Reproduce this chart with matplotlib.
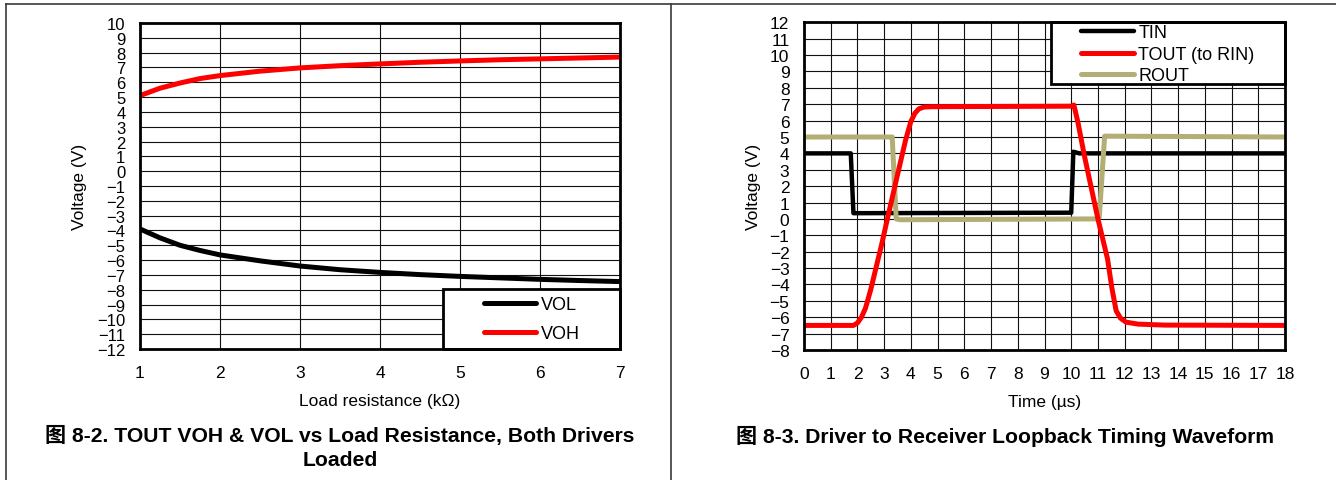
import matplotlib
matplotlib.use("Agg")
import matplotlib.pyplot as plt
from matplotlib.patches import Rectangle
from matplotlib.lines import Line2D

plt.rcParams['font.family'] = ['Liberation Sans', 'Noto Sans CJK SC', 'DejaVu Sans']

# ---------------- data: left chart ----------------
load_kohm = [1.0, 1.25, 1.5, 1.75, 2.0, 2.5, 3.0, 3.5, 4.0, 4.5, 5.0, 5.5, 6.0, 6.5, 7.0]
voh = [5.1, 5.6, 5.95, 6.25, 6.45, 6.75, 6.97, 7.12, 7.24, 7.35, 7.44, 7.52, 7.58, 7.64, 7.7]
vol = [-3.9, -4.5, -5.0, -5.35, -5.65, -6.05, -6.4, -6.65, -6.83, -6.98, -7.1, -7.2, -7.3, -7.38, -7.45]

# ---------------- data: right chart ----------------
t_tin = [0.0, 1.75, 1.85, 10.0, 10.08, 10.3, 18.0]
v_tin = [4.0, 4.0, 0.35, 0.38, 4.1, 4.0, 4.0]

t_tout = [0.0, 1.85, 2.0, 2.15, 2.3, 2.5, 2.9, 3.12, 3.5, 3.8, 4.0, 4.15, 4.3, 4.5, 4.8, 10.0, 10.1,
          10.25, 10.5, 10.75, 11.0, 11.36, 11.52, 11.68, 11.84, 12.05, 12.5, 13.5, 18.0]
v_tout = [-6.5, -6.5, -6.35, -6.0, -5.45, -4.3, -1.6, 0.0, 2.7, 4.8, 5.95, 6.45, 6.72, 6.83, 6.85, 6.88, 6.95,
          5.9, 3.8, 1.9, 0.0, -2.45, -4.2, -5.6, -6.05, -6.3, -6.42, -6.48, -6.5]

t_rout = [0.0, 3.3, 3.45, 3.6, 10.95, 11.05, 11.25, 11.5, 18.0]
v_rout = [5.0, 5.0, 0.0, -0.05, 0.0, 0.1, 5.05, 5.05, 5.0]

left_xticks = [1, 2, 3, 4, 5, 6, 7]
left_yticks = list(range(-12, 11))
right_xticks = list(range(0, 19))
right_yticks = list(range(-8, 13))

RED = '#ff0000'
BLACK = '#000000'
OLIVE = '#b3ae74'
FS = 12.5
LEG_FS = 13

fig = plt.figure(figsize=(13.36, 4.81), dpi=100)

# outer frame lines
frame_col = '#3a3a3a'
fig.add_artist(Line2D([6 / 1336, 1.0], [1 - 5 / 481, 1 - 5 / 481], color=frame_col, lw=1.2, transform=fig.transFigure))
fig.add_artist(Line2D([6 / 1336, 6 / 1336], [0, 1 - 5 / 481], color=frame_col, lw=1.2, transform=fig.transFigure))
fig.add_artist(Line2D([671 / 1336, 671 / 1336], [0, 1 - 5 / 481], color=frame_col, lw=1.2, transform=fig.transFigure))


def style_axes(ax, xt, yt, ytick_fs):
    ax.set_xticks(xt)
    ax.set_yticks(yt)
    ax.set_xlim(xt[0], xt[-1])
    ax.set_ylim(yt[0], yt[-1])
    ax.grid(True, color='#111111', lw=0.8)
    ax.set_axisbelow(True)
    for s in ax.spines.values():
        s.set_linewidth(2.0)
        s.set_color('black')
        s.set_zorder(10)
    ax.tick_params(axis='both', length=0)
    ax.tick_params(axis='x', pad=11.5, labelsize=FS)
    ax.tick_params(axis='y', pad=10.5, labelsize=ytick_fs)


# ---------------- left chart ----------------
ax1 = fig.add_axes([140 / 1336, (481 - 350) / 481, 480 / 1336, 326 / 481])
style_axes(ax1, left_xticks, left_yticks, 12)
ax1.plot(load_kohm, vol, color=BLACK, lw=3.6, label='VOL', zorder=3)
ax1.plot(load_kohm, voh, color=RED, lw=3.6, label='VOH', zorder=3)
ax1.set_xlabel('Load resistance (kΩ)', fontsize=FS, labelpad=9.5)
ax1.set_ylabel('Voltage (V)', fontsize=FS, labelpad=7.5)

lx0 = (443 - 140) / 480
lh = (350 - 290) / 326
ax1.add_patch(Rectangle((lx0, 0), 1 - lx0, lh, transform=ax1.transAxes, facecolor='white',
                        edgecolor='black', lw=2.0, zorder=8, clip_on=False))
leg1 = ax1.legend(loc='center', bbox_to_anchor=(lx0, 0, 1 - lx0, lh), frameon=False,
                  fontsize=LEG_FS, handlelength=2.9, handletextpad=0.25, labelspacing=0.68,
                  borderpad=0, borderaxespad=0)
leg1.set_zorder(9)
for h in leg1.get_lines():
    h.set_solid_capstyle('round')

# ---------------- right chart ----------------
ax2 = fig.add_axes([804 / 1336, (481 - 351) / 481, 481 / 1336, 327.7 / 481])
style_axes(ax2, right_xticks, right_yticks, FS)
ax2.plot(t_tin, v_tin, color=BLACK, lw=3.2, label='TIN', zorder=3)
ax2.plot(t_tout, v_tout, color=RED, lw=3.6, label='TOUT (to RIN)', zorder=4)
ax2.plot(t_rout, v_rout, color=OLIVE, lw=3.6, label='ROUT', zorder=3)
ax2.set_xlabel('Time (µs)', fontsize=FS, labelpad=9.5)
ax2.set_ylabel('Voltage (V)', fontsize=FS, labelpad=6)

rx0 = (1051 - 804) / 481
ry0 = (351 - 85) / 327.7
ax2.add_patch(Rectangle((rx0, ry0), 1 - rx0, 1 - ry0, transform=ax2.transAxes, facecolor='white',
                        edgecolor='black', lw=2.0, zorder=8, clip_on=False))
leg2 = ax2.legend(loc='center', bbox_to_anchor=(rx0, ry0 - 0.004, 1 - rx0, 1 - ry0), frameon=False,
                  fontsize=LEG_FS, handlelength=2.9, handletextpad=0.25, labelspacing=0.25,
                  borderpad=0, borderaxespad=0)
leg2.set_zorder(9)
for h in leg2.get_lines():
    h.set_solid_capstyle('round')

# ---------------- captions ----------------
cap_fs = 15.2
fig.text(340 / 1336, 1 - 436 / 481, '图 8-2. TOUT VOH & VOL vs Load Resistance, Both Drivers',
         ha='center', va='center', fontsize=cap_fs, fontweight='bold')
fig.text(340 / 1336, 1 - 461 / 481, 'Loaded', ha='center', va='center', fontsize=cap_fs, fontweight='bold')
fig.text(1004.5 / 1336, 1 - 436 / 481, '图 8-3. Driver to Receiver Loopback Timing Waveform',
         ha='center', va='center', fontsize=cap_fs, fontweight='bold')

fig.savefig('out.png', dpi=100)
